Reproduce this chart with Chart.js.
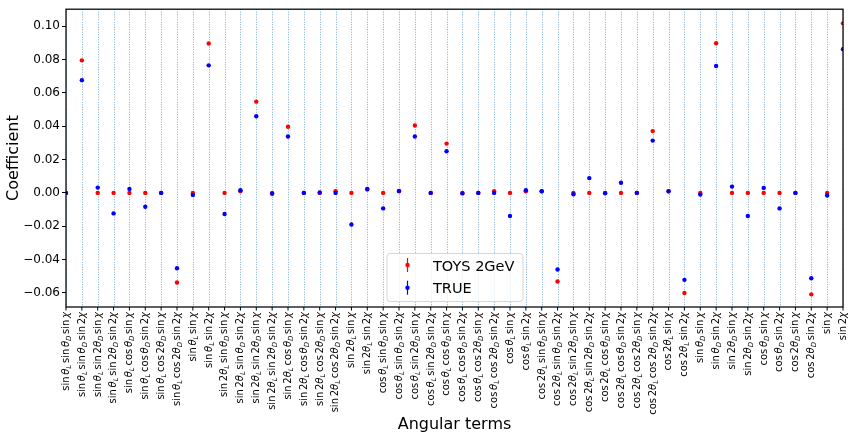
<!DOCTYPE html>
<html>
<head>
<meta charset="utf-8">
<script src="https://cdn.jsdelivr.net/npm/chart.js@4"></script>
<style>
  html, body { margin: 0; padding: 0; background: #fff; }
</style>
</head>
<body>
<canvas id="chart" width="848" height="434"></canvas>
<script>
// Angular terms (x categories), "_X" = subscript, θ/χ drawn italic
const terms = [
  "sin θ_L sin θ_D sin χ", "sin θ_L sin θ_D sin 2χ", "sin θ_L sin 2θ_D sin χ", "sin θ_L sin 2θ_D sin 2χ",
  "sin θ_L cos θ_D sin χ", "sin θ_L cos θ_D sin 2χ", "sin θ_L cos 2θ_D sin χ", "sin θ_L cos 2θ_D sin 2χ",
  "sin θ_L sin χ", "sin θ_L sin 2χ",
  "sin 2θ_L sin θ_D sin χ", "sin 2θ_L sin θ_D sin 2χ", "sin 2θ_L sin 2θ_D sin χ", "sin 2θ_L sin 2θ_D sin 2χ",
  "sin 2θ_L cos θ_D sin χ", "sin 2θ_L cos θ_D sin 2χ", "sin 2θ_L cos 2θ_D sin χ", "sin 2θ_L cos 2θ_D sin 2χ",
  "sin 2θ_L sin χ", "sin 2θ_L sin 2χ",
  "cos θ_L sin θ_D sin χ", "cos θ_L sin θ_D sin 2χ", "cos θ_L sin 2θ_D sin χ", "cos θ_L sin 2θ_D sin 2χ",
  "cos θ_L cos θ_D sin χ", "cos θ_L cos θ_D sin 2χ", "cos θ_L cos 2θ_D sin χ", "cos θ_L cos 2θ_D sin 2χ",
  "cos θ_L sin χ", "cos θ_L sin 2χ",
  "cos 2θ_L sin θ_D sin χ", "cos 2θ_L sin θ_D sin 2χ", "cos 2θ_L sin 2θ_D sin χ", "cos 2θ_L sin 2θ_D sin 2χ",
  "cos 2θ_L cos θ_D sin χ", "cos 2θ_L cos θ_D sin 2χ", "cos 2θ_L cos 2θ_D sin χ", "cos 2θ_L cos 2θ_D sin 2χ",
  "cos 2θ_L sin χ", "cos 2θ_L sin 2χ",
  "sin θ_D sin χ", "sin θ_D sin 2χ", "sin 2θ_D sin χ", "sin 2θ_D sin 2χ",
  "cos θ_D sin χ", "cos θ_D sin 2χ", "cos 2θ_D sin χ", "cos 2θ_D sin 2χ",
  "sin χ", "sin 2χ"
];

const toys = [
  0.000, 0.0796, 0.000, 0.000, 0.000, 0.000, 0.000, -0.0538, 0.000, 0.0897,
  0.000, 0.001, 0.0548, 0.000, 0.0397, 0.000, 0.000, 0.001, 0.000, 0.002,
  0.000, 0.001, 0.0405, 0.000, 0.0296, 0.000, 0.000, 0.001, 0.000, 0.001,
  0.001, -0.0532, 0.000, 0.000, 0.000, 0.000, 0.000, 0.0371, 0.001, -0.0601,
  0.000, 0.0899, 0.000, 0.000, 0.000, 0.000, 0.000, -0.0609, 0.000, 0.1018
];

const truth = [
  0.000, 0.0677, 0.0032, -0.0123, 0.0024, -0.0083, 0.000, -0.0452, -0.0012, 0.0766,
  -0.0127, 0.0016, 0.046, -0.0005, 0.0339, 0.000, 0.0003, 0.000, -0.019, 0.0024,
  -0.0093, 0.0012, 0.0339, 0.000, 0.025, -0.0003, 0.000, 0.000, -0.0139, 0.0016,
  0.001, -0.046, -0.0008, 0.0089, -0.0002, 0.0061, 0.000, 0.0314, 0.001, -0.0522,
  -0.001, 0.0762, 0.0038, -0.0139, 0.003, -0.0093, 0.000, -0.0512, -0.0016, 0.0863
];

const yTickValues = [-0.06, -0.04, -0.02, 0.00, 0.02, 0.04, 0.06, 0.08, 0.10];
const Y_MIN = -0.0685, Y_MAX = 0.1103;

const FONT = "DejaVu Sans";
Chart.defaults.font.family = FONT;
Chart.defaults.color = "#000";

function fmtTick(v) {
  if (Math.abs(v) < 1e-9) v = 0;
  return v.toFixed(2).replace("-", "\u2212");
}

// split a term string into runs of same font
function termRuns(str, f) {
  const runs = [];
  const push = (t, font, dy) => {
    const last = runs[runs.length - 1];
    if (last && last.font === font && last.dy === dy) last.t += t;
    else runs.push({ t, font, dy });
  };
  for (let i = 0; i < str.length; i++) {
    const ch = str[i];
    if (ch === " ") { runs.push({ gap: f / 6 }); continue; }
    if (ch === "_") { push(str[i + 1], `oblique ${0.7 * f}px ${FONT}`, 0.2 * f); i++; continue; }
    if (ch === "θ" || ch === "χ") push(ch, `oblique ${f}px ${FONT}`, 0);
    else push(ch, `${f}px ${FONT}`, 0);
  }
  return runs;
}

const axesPlugin = {
  id: "axesPlugin",
  beforeDatasetsDraw(chart) {
    const { ctx, chartArea: a, scales: { x } } = chart;
    ctx.save();
    // dotted vertical grid per category
    ctx.strokeStyle = "rgba(31,119,180,0.6)";
    ctx.lineWidth = 1;
    ctx.setLineDash([1, 1.5]);
    terms.forEach((t, i) => {
      const px = Math.round(x.getPixelForValue(i)) + 0.5;
      ctx.beginPath();
      ctx.moveTo(px, a.top);
      ctx.lineTo(px, a.bottom);
      ctx.stroke();
    });
    ctx.restore();
  },
  afterDraw(chart) {
    const { ctx, chartArea: a, scales: { x } } = chart;
    ctx.save();
    // frame
    ctx.strokeStyle = "#000";
    ctx.lineWidth = 1.25;
    ctx.strokeRect(a.left, a.top, a.right - a.left, a.bottom - a.top);
    // x ticks + rotated labels
    const f = 10;
    ctx.lineWidth = 1;
    ctx.fillStyle = "#000";
    terms.forEach((t, i) => {
      const px = x.getPixelForValue(i);
      ctx.beginPath();
      ctx.moveTo(px, a.bottom);
      ctx.lineTo(px, a.bottom + 3.5);
      ctx.stroke();

      const runs = termRuns(t, f);
      let w = 0;
      runs.forEach(r => {
        if (r.gap) { r.w = r.gap; }
        else { ctx.font = r.font; r.w = ctx.measureText(r.t).width; }
        w += r.w;
      });
      ctx.save();
      ctx.translate(px + 0.28 * f, a.bottom + 5);
      ctx.rotate(-Math.PI / 2);
      ctx.textBaseline = "alphabetic";
      ctx.textAlign = "left";
      let cx = -w;
      runs.forEach(r => {
        if (!r.gap) { ctx.font = r.font; ctx.fillText(r.t, cx, r.dy); }
        cx += r.w;
      });
      ctx.restore();
    });

    // legend
    const lx = 387, ly = 253.5, lw = 136, lh = 48;
    ctx.beginPath();
    ctx.roundRect(lx, ly, lw, lh, 3);
    ctx.fillStyle = "rgba(255,255,255,0.8)";
    ctx.fill();
    ctx.strokeStyle = "#d6d6d6";
    ctx.lineWidth = 1;
    ctx.stroke();
    const entries = [
      { label: "TOYS 2GeV", color: "#ff0000", cy: 265 },
      { label: "TRUE", color: "#0000ff", cy: 287.7 }
    ];
    entries.forEach(e => {
      ctx.strokeStyle = e.color;
      ctx.fillStyle = e.color;
      ctx.lineWidth = 1.2;
      ctx.beginPath();
      ctx.moveTo(407.5, e.cy - 7);
      ctx.lineTo(407.5, e.cy + 7);
      ctx.stroke();
      ctx.beginPath();
      ctx.arc(407.5, e.cy, 2.2, 0, Math.PI * 2);
      ctx.fill();
      ctx.fillStyle = "#000";
      ctx.font = `14.5px ${FONT}`;
      ctx.textBaseline = "alphabetic";
      ctx.fillText(e.label, 433, e.cy + 5.5);
    });
    ctx.restore();
  }
};

const pointStyle = color => ({
  showLine: false,
  pointRadius: 2.2,
  pointBorderWidth: 0,
  pointBackgroundColor: color,
  borderColor: color,
  backgroundColor: color,
  clip: 0
});

new Chart(document.getElementById("chart"), {
  type: "line",
  data: {
    labels: terms,
    datasets: [
      { label: "TOYS 2GeV", data: toys, order: 1, ...pointStyle("#ff0000") },
      { label: "TRUE", data: truth, order: 0, ...pointStyle("#0000ff") }
    ]
  },
  options: {
    responsive: false,
    animation: false,
    events: [],
    layout: { padding: { top: 7, right: 5, left: 0, bottom: 0 } },
    plugins: { legend: { display: false }, tooltip: { enabled: false } },
    scales: {
      x: {
        type: "category",
        offset: false,
        grid: { display: false },
        border: { display: false },
        ticks: { display: false },
        title: { display: true, text: "Angular terms", font: { size: 16 }, padding: { top: 0, bottom: 0 } },
        afterFit: s => { s.height = 127; }
      },
      y: {
        min: Y_MIN,
        max: Y_MAX,
        afterBuildTicks: s => { s.ticks = yTickValues.map(v => ({ value: v })); },
        ticks: { font: { size: 12 }, padding: 2, callback: v => fmtTick(v) },
        grid: { drawOnChartArea: false, drawTicks: true, tickLength: 4, color: "#000", tickWidth: 1 },
        border: { display: false },
        title: { display: true, text: "Coefficient", font: { size: 16 } },
        afterFit: s => { s.width = 66; }
      }
    }
  },
  plugins: [axesPlugin]
});
</script>
</body>
</html>
